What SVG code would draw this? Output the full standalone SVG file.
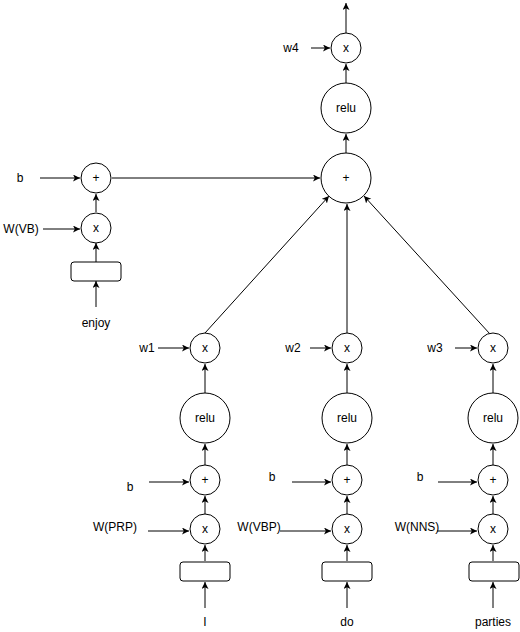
<svg xmlns="http://www.w3.org/2000/svg" width="520" height="632" viewBox="0 0 520 632">
<style>
.n{fill:#fff;stroke:#000;stroke-width:1}
.t{font-family:"Liberation Sans",Arial,sans-serif;font-size:12px;fill:#000;text-anchor:middle}
.c line{stroke:#000;stroke-width:1;marker-end:url(#ah)}
</style>
<defs>
<marker id="ah" markerUnits="userSpaceOnUse" markerWidth="8" markerHeight="8" refX="7" refY="3.5" orient="auto">
<path d="M0,0 L7,3.5 L0,7 L1.8,3.5 z" fill="#000"/>
</marker>
</defs>
<rect width="520" height="632" fill="#fff"/>
<g class="c" id="connectors">
<line x1="346" y1="33" x2="346" y2="3"/>
<line x1="311" y1="48" x2="330" y2="48"/>
<line x1="346" y1="83" x2="346" y2="64"/>
<line x1="346" y1="153" x2="346" y2="134"/>
<line x1="112" y1="178" x2="320" y2="178"/>
<line x1="205" y1="333" x2="329" y2="196"/>
<line x1="347" y1="333" x2="347" y2="204"/>
<line x1="490" y1="334" x2="364" y2="196"/>
<line x1="96" y1="307" x2="96" y2="281"/>
<line x1="96" y1="262" x2="96" y2="243"/>
<line x1="96" y1="212" x2="96" y2="194"/>
<line x1="40" y1="178" x2="80" y2="178"/>
<line x1="43" y1="229" x2="80" y2="229"/>
<line x1="205" y1="608" x2="205" y2="582"/>
<line x1="205" y1="561" x2="205" y2="545"/>
<line x1="205" y1="514" x2="205" y2="496"/>
<line x1="205" y1="465" x2="205" y2="444"/>
<line x1="205" y1="393" x2="205" y2="364"/>
<line x1="158" y1="348" x2="189" y2="348"/>
<line x1="149" y1="482" x2="189" y2="482"/>
<line x1="148" y1="531" x2="189" y2="531"/>
<line x1="347" y1="608" x2="347" y2="582"/>
<line x1="347" y1="561" x2="347" y2="545"/>
<line x1="347" y1="514" x2="347" y2="496"/>
<line x1="347" y1="465" x2="347" y2="444"/>
<line x1="347" y1="393" x2="347" y2="364"/>
<line x1="310" y1="348" x2="331" y2="348"/>
<line x1="292" y1="482" x2="331" y2="482"/>
<line x1="280" y1="531" x2="331" y2="531"/>
<line x1="493" y1="608" x2="493" y2="582"/>
<line x1="493" y1="561" x2="493" y2="545"/>
<line x1="493" y1="514" x2="493" y2="496"/>
<line x1="493" y1="465" x2="493" y2="444"/>
<line x1="493" y1="393" x2="493" y2="364"/>
<line x1="455" y1="348" x2="477" y2="348"/>
<line x1="438" y1="482" x2="477" y2="482"/>
<line x1="437" y1="531" x2="477" y2="531"/>
</g>
<g id="top-x"><circle class="n" cx="346" cy="48" r="15"/><text class="t" x="346" y="52">x</text></g>
<g id="w4"><text class="t" x="291" y="52">w4</text></g>
<g id="top-relu"><circle class="n" cx="346" cy="108" r="25"/><text class="t" x="346" y="112">relu</text></g>
<g id="top-plus"><circle class="n" cx="346" cy="178" r="25"/><text class="t" x="346" y="182">+</text></g>
<g id="enjoy-plus"><circle class="n" cx="96" cy="178" r="15"/><text class="t" x="96" y="182">+</text></g>
<g id="enjoy-x"><circle class="n" cx="96" cy="228" r="15"/><text class="t" x="96" y="232">x</text></g>
<g id="enjoy-box"><rect class="n" x="71" y="262" width="50" height="19" rx="3"/></g>
<g id="enjoy"><text class="t" x="96" y="327">enjoy</text></g>
<g id="b0"><text class="t" x="20" y="182">b</text></g>
<g id="wvb"><text class="t" x="21" y="233">W(VB)</text></g>

<g id="x1"><circle class="n" cx="205" cy="348" r="15"/><text class="t" x="205" y="352">x</text></g>
<g id="relu1"><circle class="n" cx="205" cy="418" r="25"/><text class="t" x="205" y="422">relu</text></g>
<g id="plus1"><circle class="n" cx="205" cy="480" r="15"/><text class="t" x="205" y="484">+</text></g>
<g id="xb1"><circle class="n" cx="205" cy="529" r="15"/><text class="t" x="205" y="533">x</text></g>
<g id="box1"><rect class="n" x="180" y="562" width="50" height="19" rx="3"/></g>
<g id="lblI"><text class="t" x="205" y="626">I</text></g>
<g id="w1"><text class="t" x="147" y="352">w1</text></g>
<g id="b1"><text class="t" x="130" y="491">b</text></g>
<g id="wprp"><text class="t" x="115" y="531">W(PRP)</text></g>

<g id="x2"><circle class="n" cx="347" cy="348" r="15"/><text class="t" x="347" y="352">x</text></g>
<g id="relu2"><circle class="n" cx="347" cy="418" r="25"/><text class="t" x="347" y="422">relu</text></g>
<g id="plus2"><circle class="n" cx="347" cy="480" r="15"/><text class="t" x="347" y="484">+</text></g>
<g id="xb2"><circle class="n" cx="347" cy="529" r="15"/><text class="t" x="347" y="533">x</text></g>
<g id="box2"><rect class="n" x="322" y="562" width="50" height="19" rx="3"/></g>
<g id="lbldo"><text class="t" x="347" y="626">do</text></g>
<g id="w2"><text class="t" x="293" y="352">w2</text></g>
<g id="b2"><text class="t" x="272" y="481">b</text></g>
<g id="wvbp"><text class="t" x="259" y="531">W(VBP)</text></g>

<g id="x3"><circle class="n" cx="493" cy="348" r="15"/><text class="t" x="493" y="352">x</text></g>
<g id="relu3"><circle class="n" cx="493" cy="418" r="25"/><text class="t" x="493" y="422">relu</text></g>
<g id="plus3"><circle class="n" cx="493" cy="480" r="15"/><text class="t" x="493" y="484">+</text></g>
<g id="xb3"><circle class="n" cx="493" cy="529" r="15"/><text class="t" x="493" y="533">x</text></g>
<g id="box3"><rect class="n" x="469" y="562" width="50" height="19" rx="3"/></g>
<g id="lblparties"><text class="t" x="493" y="626">parties</text></g>
<g id="w3"><text class="t" x="435" y="352">w3</text></g>
<g id="b3"><text class="t" x="420" y="481">b</text></g>
<g id="wnns"><text class="t" x="417" y="531">W(NNS)</text></g>
</svg>
